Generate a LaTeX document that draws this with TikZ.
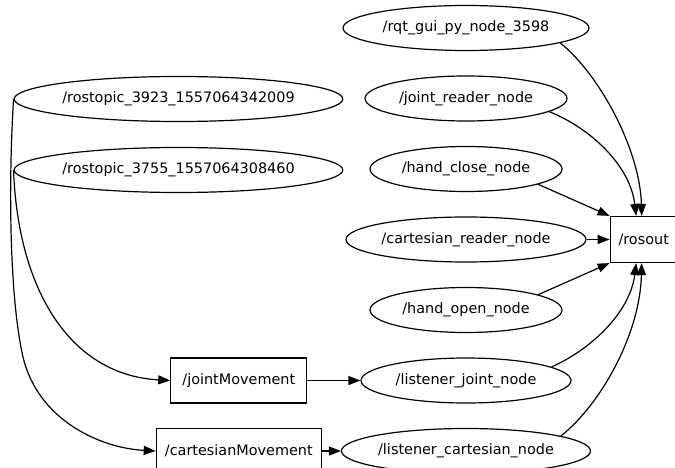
\documentclass[tikz,border=0pt]{standalone}
\usepackage{fontspec}
\setmainfont{DejaVu Sans}
\usetikzlibrary{arrows.meta,positioning,shapes.geometric}

\begin{document}
\begin{tikzpicture}[x=1pt, y=-1pt, line width=1.2pt,
  every node/.style={font=\fontsize{14.4}{17}\selectfont, inner sep=0pt},
  rnode/.style={draw, ellipse, minimum height=45pt},
  rtopic/.style={draw, rectangle, minimum height=45pt},
  >={Triangle[length=12pt,width=9pt]}, node distance=24.3pt]
\useasboundingbox (0,0) rectangle (675,468);
\clip (0,0) rectangle (675,468);
\node[rnode, minimum width=246pt] (rqt) at (466,28) {/rqt\_gui\_py\_node\_3598};
\node[rnode, minimum width=202pt, below=of rqt] (jreader) {/joint\_reader\_node};
\node[rnode, minimum width=192pt, below=of jreader] (hclose) {/hand\_close\_node};
\node[rnode, minimum width=240pt, below=of hclose] (creader) {/cartesian\_reader\_node};
\node[rnode, minimum width=192pt, below=of creader] (hopen) {/hand\_open\_node};
\node[rnode, minimum width=210pt, below=of hopen] (ljoint) {/listener\_joint\_node};
\node[rnode, minimum width=249pt, below=of ljoint] (lcart) {/listener\_cartesian\_node};
\node[rnode, minimum width=327pt] (rt3923) at (178.5,99) {/rostopic\_3923\_1557064342009};
\node[rnode, minimum width=327pt, below=24.8pt of rt3923] (rt3755) {/rostopic\_3755\_1557064308460};
\node[rtopic, minimum width=136pt, left=53pt of ljoint] (jmove) {/jointMovement};
\node[rtopic, minimum width=165pt, left=19pt of lcart] (cmove) {/cartesianMovement};
\node[rtopic, minimum width=67pt, minimum height=46pt, right=23pt of creader] (rosout) {/rosout};
\draw[->] (rqt.-9) .. controls (600,75) and (640,150) .. ([xshift=-2pt]rosout.north);
\draw[->] (jreader.-9) .. controls (590,128) and (630,165) .. ([xshift=-7.5pt]rosout.north);
\draw[->] (hclose.-12) -- (rosout.north west);
\draw[->] (creader) -- (rosout);
\draw[->] (hopen.12) -- (rosout.south west);
\draw[->] (ljoint.9) .. controls (590,350) and (630,313) .. ([xshift=-7.5pt]rosout.south);
\draw[->] (lcart.9.5) .. controls (600,405) and (640,335) .. ([xshift=-2pt]rosout.south);
\draw[->] (rt3923.west) .. controls (8,190) and (10,300) .. (23,357) .. controls (38,420) and (100,448) .. (cmove.west);
\draw[->] (rt3755.west) .. controls (18,290) and (70,375) .. (jmove.west);
\draw[->] (jmove) -- (ljoint);
\draw[->] (cmove) -- (lcart);
\end{tikzpicture}
\end{document}
